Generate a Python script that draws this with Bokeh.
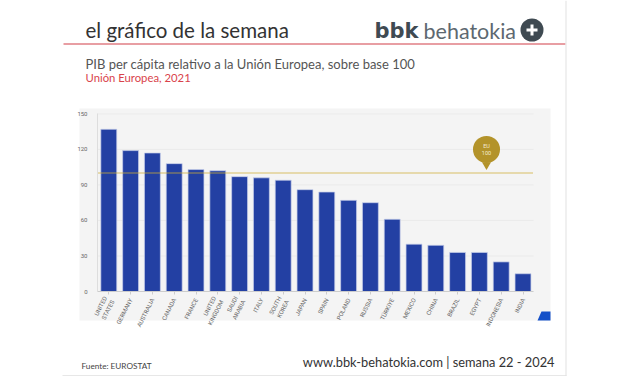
from bokeh.plotting import figure
from bokeh.embed import file_html
from bokeh.resources import INLINE
from bokeh.models import Label, BoxAnnotation, PolyAnnotation, FixedTicker, Range1d
from bokeh.core.properties import value

countries = ["UNITED\nSTATES","GERMANY","AUSTRALIA","CANADA","FRANCE","UNITED\nKINGDOM","SAUDI\nARABIA","ITALY","SOUTH\nKOREA","JAPAN","SPAIN","POLAND","RUSSIA","TÜRKIYE","MEXICO","CHINA","BRAZIL","EGYPT","INDONESIA","INDIA"]
pib = [137,119,117,108,103,102,97,96,94,86,84,77,75,61,40,39,33,33,25,15]
y_ticks = [0,30,60,90,120,150]
eu_base = 100

W, H = 627, 376
X0, DX = 108.3, 21.8      # page pixel of first bar centre, pixels per bar
Y0, DY = 291.0, 1.184     # page pixel of value 0, pixels per unit
xs = list(range(len(countries)))
AX_L, AX_R = (97-X0)/DX, (533-X0)/DX

p = figure(width=W, height=H, output_backend="svg", toolbar_location=None,
           x_range=Range1d((0-X0)/DX, (W-X0)/DX),
           y_range=Range1d((Y0-H)/DY, Y0/DY),
           min_border=0, min_border_left=0, min_border_right=0, min_border_top=0, min_border_bottom=0,
           outline_line_color=None, background_fill_color="white", border_fill_color="white")

def sx(x): return x
def sy(y): return H-y

def box(l,r,t,b,color,radius=0,level="underlay"):
    p.add_layout(BoxAnnotation(left=sx(l),right=sx(r),top=sy(t),bottom=sy(b),
        left_units="screen",right_units="screen",top_units="screen",bottom_units="screen",
        fill_color=color,fill_alpha=1,line_color=None,level=level,border_radius=radius,editable=False))

def label(x,y,t,size,color,font="Lato",align="left",style="normal"):
    p.add_layout(Label(x=sx(x),y=sy(y),x_units="screen",y_units="screen",text=t,text_font_size=f"{size}px",
        text_color=color,text_font=font,text_align=align,text_font_style=style,text_baseline="alphabetic"))

box(79,550,108,320,"#f4f4f4")
box(63,565,43,44,"#d23f48")
box(62,566,375,376,"#cfcfcf")
box(565,566,0,376,"#e2e2e2")

label(85,29,"el gráfico de la semana",20.5,"#333333")
label(374,30,"bbk",21,"#3f4a52","DejaVu Sans",style="bold")
label(423,30,"behatokia",21.5,"#5d6870")
box(520,543,18,41,"#3f4a52",radius=12,level="annotation")
box(526,537,28,31,"#ffffff",level="annotation")
box(530,533,24,35,"#ffffff",level="annotation")
label(85,63,"PIB per cápita relativo a la Unión Europea, sobre base 100",13,"#555555")
label(85,77,"Unión Europea, 2021",11.3,"#d9434b")
label(81,365,"Fuente: EUROSTAT",8.2,"#444444")
label(554,361,"www.bbk-behatokia.com | semana 22 - 2024",12.8,"#333333",align="right")

p.add_layout(PolyAnnotation(xs=[sx(v) for v in (541,550,550,537)], ys=[sy(v) for v in (311,311,320,320)],
    xs_units="screen", ys_units="screen", fill_color="#1450c8", fill_alpha=1, line_color=None, level="annotation"))

p.xgrid.grid_line_color=None
p.ygrid.grid_line_color=None
p.segment(x0=[AX_L]*len(y_ticks), x1=[AX_R]*len(y_ticks), y0=y_ticks, y1=y_ticks, line_color="#e6e6e6", line_width=0.7)

p.vbar(x=xs, top=pib, width=0.73, fill_color="#2340a3", line_color="#c9d0ea", line_width=0.7)

p.line(x=[AX_L,AX_R], y=[eu_base,eu_base], line_color="#cfae35", line_width=1.5, line_dash="1 1")

# EU badge
bx = (486-X0)/DX
p.scatter(x=[bx], y=[107], size=9, marker="inverted_triangle", fill_color="#b3932a", line_color=None)
p.scatter(x=[bx], y=[120], size=27, marker="circle", fill_color="#b3932a", line_color=None)
p.text(x=[bx], y=[120], text=["EU\n100"], text_align="center", text_baseline="middle",
       text_color="#f3ead0", text_font_size="5.5px", text_font=value("Roboto"))

p.yaxis.fixed_location = AX_L
p.yaxis.bounds = (0,150)
p.yaxis.ticker = FixedTicker(ticks=y_ticks)
p.yaxis.axis_line_color="#dddddd"
p.yaxis.major_tick_line_color=None
p.yaxis.minor_tick_line_color=None
p.yaxis.major_label_text_font="Roboto"
p.yaxis.major_label_text_font_size="6px"
p.yaxis.major_label_text_color="#666666"
p.yaxis.major_label_standoff=4

p.xaxis.fixed_location = 0
p.xaxis.bounds = (AX_L,AX_R)
p.xaxis.ticker = FixedTicker(ticks=xs)
p.xaxis.major_label_overrides = {i:c for i,c in zip(xs,countries)}
p.xaxis.axis_line_color="#cccccc"
p.xaxis.major_tick_line_color="#cccccc"
p.xaxis.minor_tick_line_color=None
p.xaxis.major_tick_in=0
p.xaxis.major_tick_out=3
p.xaxis.major_label_orientation=1.1
p.xaxis.major_label_text_font="Roboto"
p.xaxis.major_label_text_font_size="6px"
p.xaxis.major_label_text_color="#666666"
p.xaxis.major_label_standoff=4

open("out.html","w").write(file_html(p, INLINE))
